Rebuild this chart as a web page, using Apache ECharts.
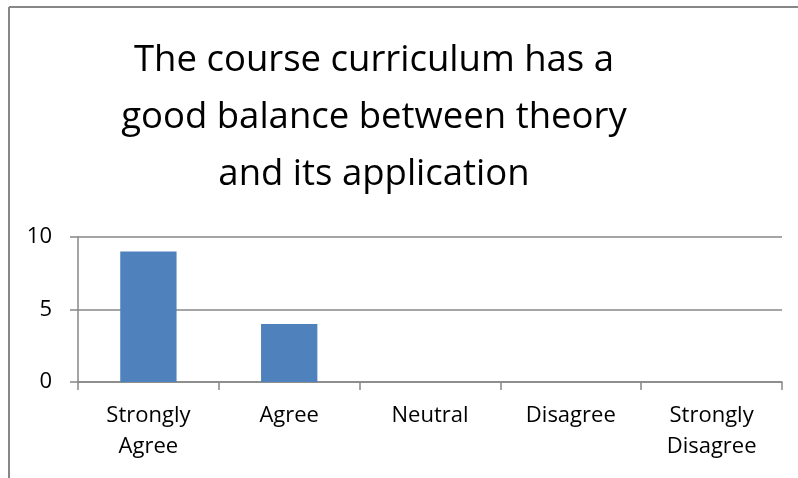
<!DOCTYPE html>
<html>
<head>
<meta charset="utf-8">
<script src="https://cdn.jsdelivr.net/npm/echarts@6/dist/echarts.min.js"></script>
<style>
  html, body { margin: 0; padding: 0; background: #fff; }
  #chart { width: 798px; height: 478px; }
</style>
</head>
<body>
<div id="chart"></div>
<script>
const categories = ['Strongly\nAgree', 'Agree', 'Neutral', 'Disagree', 'Strongly\nDisagree']
const responses = [9, 4, 0, 0, 0]
const yTicks = [0, 5, 10]

const lineColor = '#878787'
const chart = echarts.init(document.getElementById('chart'))

chart.setOption({
  animation: false,
  textStyle: { fontFamily: 'Open Sans', color: '#000' },
  title: {
    text: 'The course curriculum has a\ngood balance between theory\nand its application',
    left: 369,
    top: 27,
    textAlign: 'center',
    textStyle: {
      fontFamily: 'Open Sans',
      fontSize: 36.5,
      fontWeight: 'normal',
      lineHeight: 57,
      align: 'center',
      color: '#000'
    }
  },
  grid: { left: 78, right: 16, top: 237, bottom: 96 },
  xAxis: {
    type: 'category',
    data: categories,
    boundaryGap: true,
    axisLine: { lineStyle: { color: lineColor, width: 1.5 } },
    axisTick: { show: true, length: 8, alignWithLabel: false, lineStyle: { color: lineColor, width: 1.5 } },
    axisLabel: { color: '#000', fontSize: 22, lineHeight: 31, margin: 18, interval: 0 }
  },
  yAxis: {
    type: 'value',
    min: yTicks[0],
    max: yTicks[yTicks.length - 1],
    interval: yTicks[1] - yTicks[0],
    axisLine: { show: true, lineStyle: { color: lineColor, width: 1.5 } },
    axisTick: { show: true, length: 8, lineStyle: { color: lineColor, width: 1.5 } },
    axisLabel: { color: '#000', fontSize: 22, margin: 26 },
    splitLine: { lineStyle: { color: lineColor, width: 1.5 } }
  },
  series: [{
    type: 'bar',
    data: responses,
    barWidth: '40%',
    itemStyle: { color: '#4f81bd' }
  }],
  graphic: [
    { type: 'line', shape: { x1: 9, y1: 7, x2: 798, y2: 7 }, style: { stroke: lineColor, lineWidth: 2 } },
    { type: 'line', shape: { x1: 9, y1: 7, x2: 9, y2: 478 }, style: { stroke: lineColor, lineWidth: 2 } }
  ]
})
</script>
</body>
</html>
